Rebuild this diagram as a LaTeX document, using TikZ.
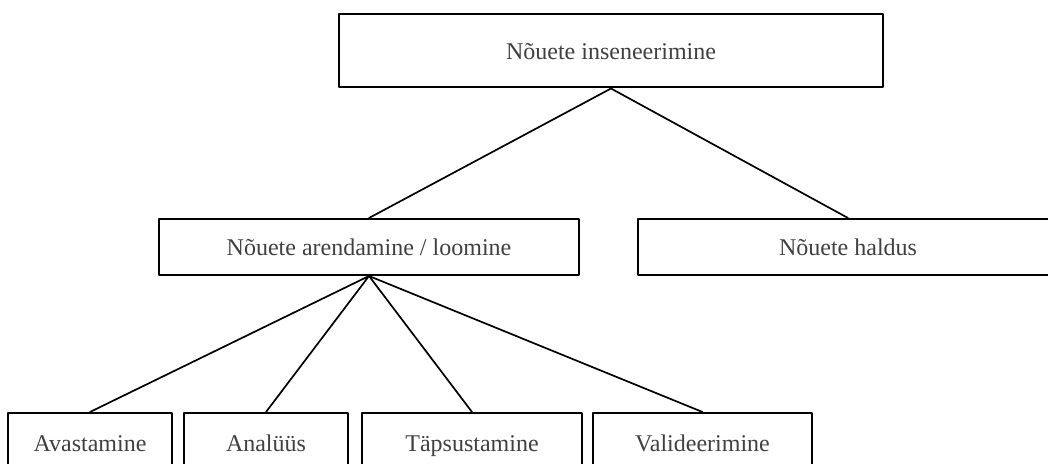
\documentclass[tikz,border=0pt]{standalone}
\usepackage{fontspec}
\setmainfont{Liberation Serif}
\begin{document}
\begin{tikzpicture}[x=.5pt, y=-.5pt, line join=round, line cap=round, font=\fontsize{12}{14}\selectfont,
		box/.style={draw, line width=1pt, inner sep=0pt, text height=11.2pt, text depth=2.6pt, text=black!75},
		link/.style={line width=.85pt}]
			\clip (0,0) rectangle (1048,464);
			\node[box, minimum width=272pt, minimum height=36.5pt] (ins) at (611,51) {Nõuete inseneerimine};
			\node[box, minimum width=210pt, minimum height=28pt] (arend) at (369,247) {Nõuete arendamine / loomine};
			\node[box, minimum width=210pt, minimum height=28pt] (haldus) at (848,247) {Nõuete haldus};
			\node[box, minimum width=82pt, minimum height=30pt] (avast) at (90,443) {Avastamine};
			\node[box, minimum width=82pt, minimum height=30pt] (anal) at (266,443) {Analüüs};
			\node[box, minimum width=110pt, minimum height=30pt] (taps) at (472,443) {Täpsustamine};
			\node[box, minimum width=109.5pt, minimum height=30pt] (valid) at (702.5,443) {Valideerimine};
			\draw[link] (ins.south)--(arend.north) (ins.south)--(haldus.north);
			\draw[link] (arend.south)--(avast.north) (arend.south)--(anal.north)
				(arend.south)--(taps.north) (arend.south)--(valid.north);
		\end{tikzpicture}
\end{document}
